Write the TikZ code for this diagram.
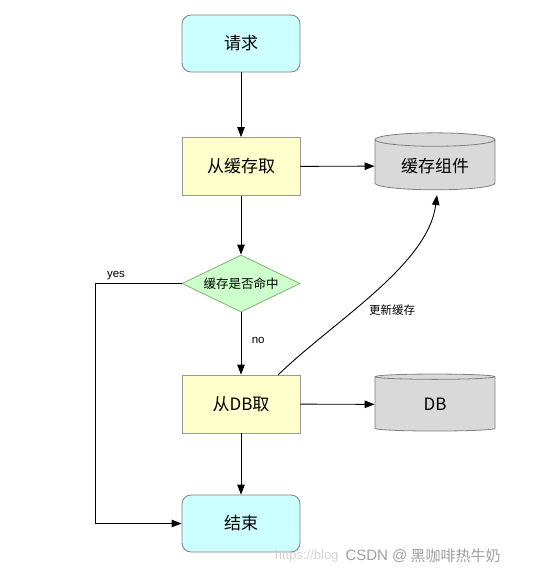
\documentclass[tikz,border=0pt]{standalone}
\usepackage{fontspec}
\setmainfont{Noto Sans CJK SC}
\newfontfamily\latinsans{Liberation Sans}
\usetikzlibrary{shapes.geometric,arrows.meta}
\definecolor{cyanfill}{HTML}{CCFFFF}
\definecolor{yellowfill}{HTML}{FFFFCC}
\definecolor{greenfill}{HTML}{CCFFCC}
\definecolor{greenline}{HTML}{88B070}
\definecolor{cylfill}{HTML}{D9D9D9}
\definecolor{edgegray}{HTML}{7F7F7F}
\tikzset{
  termbox/.style={draw=edgegray, fill=cyanfill, rounded corners=9pt, minimum width=118pt, minimum height=57pt, font=\fontsize{17}{19}\selectfont, line width=0.8pt},
  procbox/.style={draw=edgegray!80, fill=yellowfill, minimum width=118pt, minimum height=58pt, font=\fontsize{17}{19}\selectfont, line width=0.8pt},
  decbox/.style={draw=greenline, fill=greenfill, diamond, aspect=2.07, minimum width=118pt, minimum height=57pt, inner sep=0pt, font=\fontsize{12.5}{14}\selectfont, line width=0.8pt},
  storebox/.style={draw=edgegray, fill=cylfill, cylinder, shape border rotate=90, aspect=0.18, minimum width=120pt, minimum height=57pt, font=\fontsize{17}{19}\selectfont, line width=0.8pt},
  conn/.style={draw=black, line width=0.9pt, -{Triangle[length=10pt,width=7.5pt]}},
  lbl/.style={font=\fontsize{11.5}{13}\selectfont}
}
\begin{document}
\begin{tikzpicture}[x=1pt,y=-1pt]
\useasboundingbox (0,0) rectangle (550,578);
\node[termbox] (req) at (241,43.5) {请求};
\node[procbox] (cache) at (241,166.5) {从缓存取};
\node[storebox] (comp) at (435,166) {缓存组件};
\node[decbox] (hit) at (241,283.5) {缓存是否命中};
\node[procbox] (db) at (241,404) {从DB取};
\node[storebox] (dbs) at (435,404.5) {DB};
\node[termbox] (end) at (241,523.5) {结束};
\coordinate (yc1) at (95,283.5);
\coordinate (yc2) at (95,523.5);
\coordinate (dbtop) at (278,375);
\coordinate (comptop) at (437,195);
\draw[conn] (req) -- (cache);
\draw[conn] (cache) -- (comp);
\draw[conn] (cache) -- (hit);
\draw[conn] (hit) -- node[lbl, right=7pt, pos=0.45] {\latinsans no} (db);
\draw[conn] (db) -- (dbs);
\draw[conn] (db) -- (end);
\draw[conn] (hit.west) -- (yc1) -- (yc2) -- (end.west);
\node[lbl, anchor=south] (yes) at (116,283) {\latinsans yes};
\draw[conn] (dbtop) .. controls (335,320) and (428,265) .. (comptop);
\node[lbl] (upd) at (392,310) {更新缓存};
\node[text=gray!35, font=\fontsize{13}{15}\selectfont\latinsans, anchor=east] (wm1) at (342,556) {https://blog};
\node[text=gray!75, font=\fontsize{15}{17}\selectfont, anchor=west] (wm2) at (342,556) {\latinsans CSDN @}; 
\node[text=gray!75, font=\fontsize{15}{17}\selectfont, anchor=west] (wm3) at (wm2.east) [xshift=-4pt] {黑咖啡热牛奶};
\end{tikzpicture}
\end{document}
